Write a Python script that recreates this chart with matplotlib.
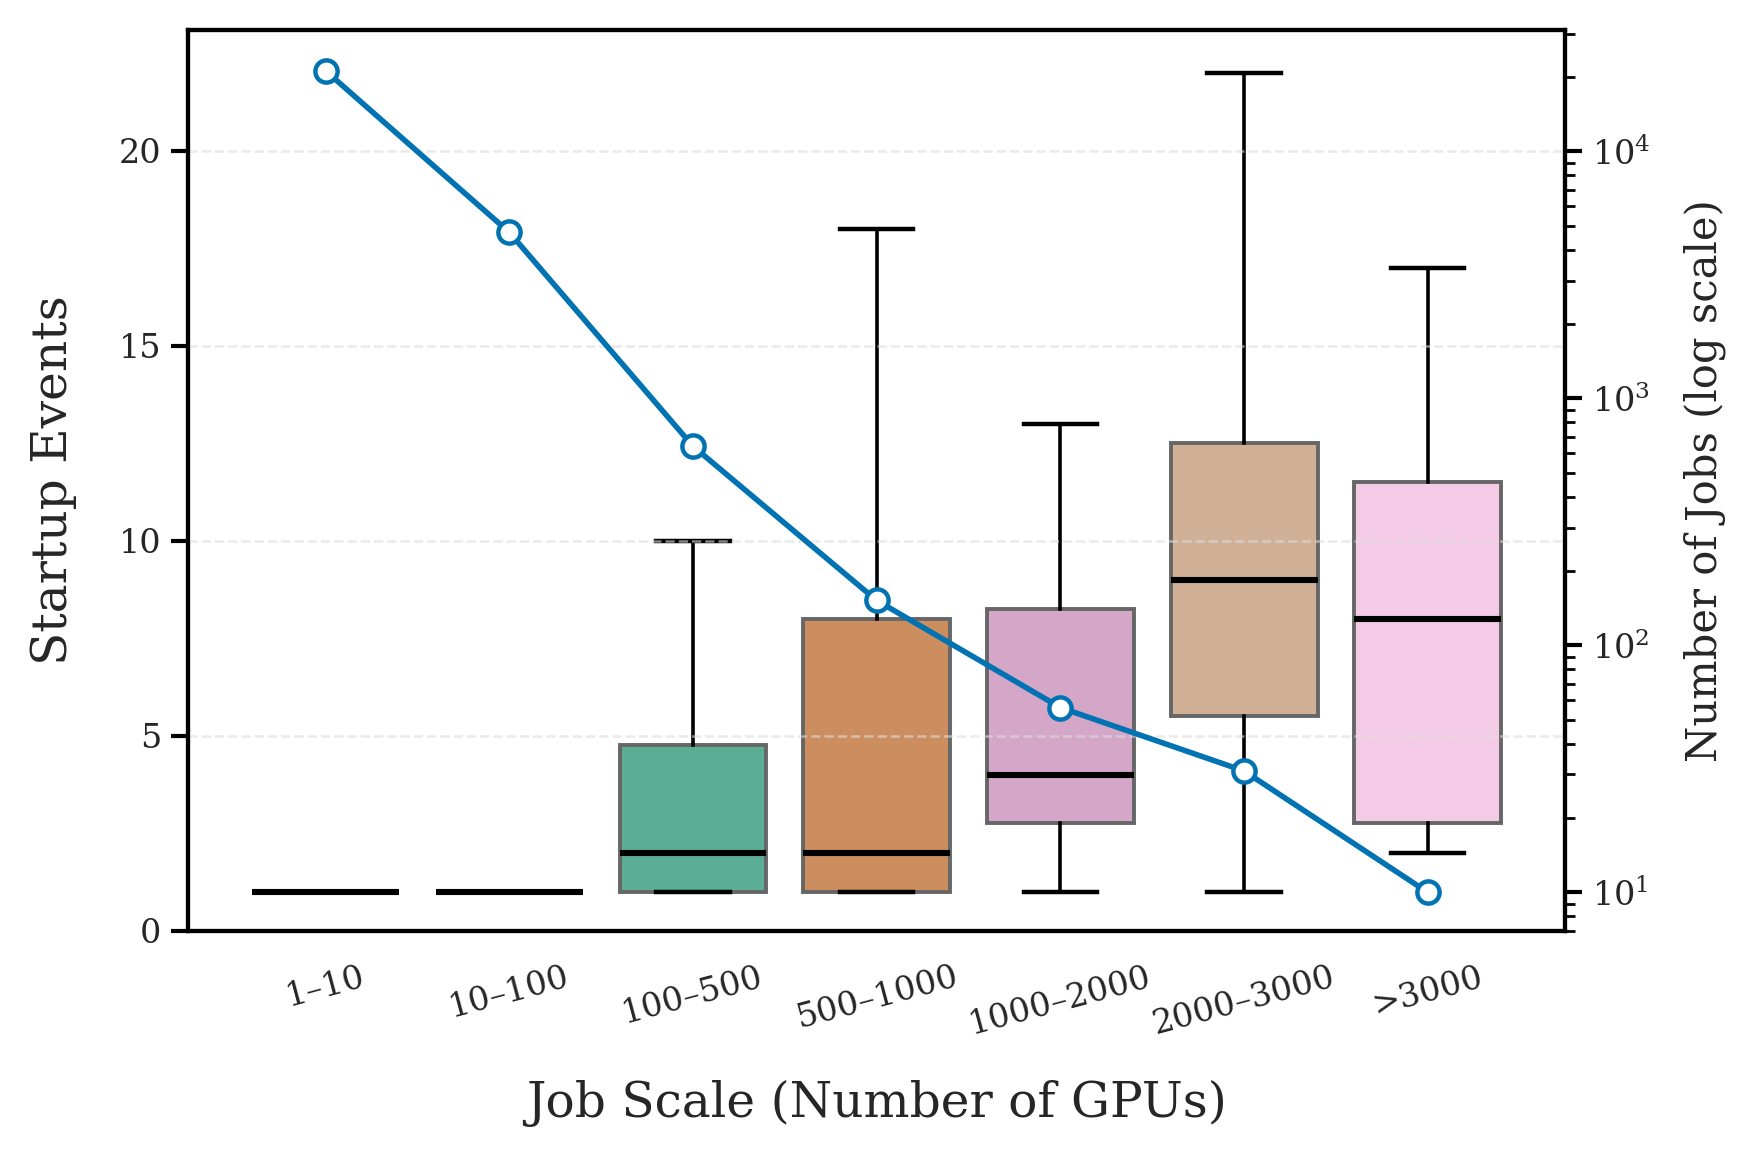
import matplotlib
matplotlib.use("Agg")
import matplotlib.pyplot as plt
import numpy as np

categories = ["1–10", "10–100", "100–500", "500–1000", "1000–2000", "2000–3000", ">3000"]
q1 = [1, 1, 1, 1, 2.75, 5.5, 2.75]
medians = [1, 1, 2, 2, 4, 9, 8]
q3 = [1, 1, 4.75, 8, 8.25, 12.5, 11.5]
whislo = [1, 1, 1, 1, 1, 1, 2]
whishi = [1, 1, 10, 18, 13, 22, 17]
job_counts = [21200, 4700, 640, 152, 56, 31, 10]

box_colors = ["#5b9bc4", "#e3a35a", "#5BAE94", "#CC8E5E", "#D4A6C8", "#D0B197", "#F4CBE6"]
line_color = "#0173B2"

plt.rcParams["font.family"] = ["DejaVu Serif"]
fig = plt.figure(figsize=(8.78, 5.78), dpi=200)
ax = fig.add_axes([0.107, 0.195, 0.7845, 0.779])

stats = []
for i, c in enumerate(categories):
    stats.append(dict(label=c, q1=q1[i], med=medians[i], q3=q3[i],
                      whislo=whislo[i], whishi=whishi[i], fliers=[]))
pos = np.arange(len(categories))
bp = ax.bxp(stats, positions=pos, widths=0.8, patch_artist=True, showfliers=False,
            boxprops=dict(edgecolor="#666666", linewidth=1.4),
            medianprops=dict(color="black", linewidth=2.2),
            whiskerprops=dict(color="black", linewidth=1.3),
            capprops=dict(color="black", linewidth=1.6))
for patch, col in zip(bp["boxes"], box_colors):
    patch.set_facecolor(col)

ax.set_xlim(-0.75, len(categories) - 0.25)
ax.set_ylim(0, 23.1)
ax.set_yticks([0, 5, 10, 15, 20])
ax.set_xticks(pos)
ax.set_xticklabels(categories, rotation=15, ha="center")
ax.tick_params(axis="x", length=0, pad=11, labelsize=12, labelcolor="#262626")
ax.tick_params(axis="y", length=6, width=1.5, labelsize=12, labelcolor="#262626")
ax.grid(axis="y", linestyle="--", color="#dddddd", alpha=0.6, linewidth=0.9)
ax.set_axisbelow(False)
for s in ax.spines.values():
    s.set_linewidth(1.5)
ax.set_ylabel("Startup Events", fontsize=17.5, color="#262626", labelpad=15)
ax.set_xlabel("Job Scale (Number of GPUs)", fontsize=17.5, color="#262626", labelpad=14)

ax2 = ax.twinx()
ax2.plot(pos, job_counts, color=line_color, linewidth=2, marker="o",
         markersize=8, markerfacecolor="white", markeredgecolor=line_color,
         markeredgewidth=1.6, zorder=5)
ax2.set_yscale("log")
ax2.set_ylim(7.0, 31000)
ax2.tick_params(axis="y", which="major", length=6, width=1.5, labelsize=12, labelcolor="#262626")
ax2.tick_params(axis="y", which="minor", length=3.5, width=1.0)
for s in ax2.spines.values():
    s.set_linewidth(1.5)
ax2.set_ylabel("Number of Jobs (log scale)", fontsize=15, color="#262626", labelpad=12)

fig.savefig("out.png", dpi=200)
